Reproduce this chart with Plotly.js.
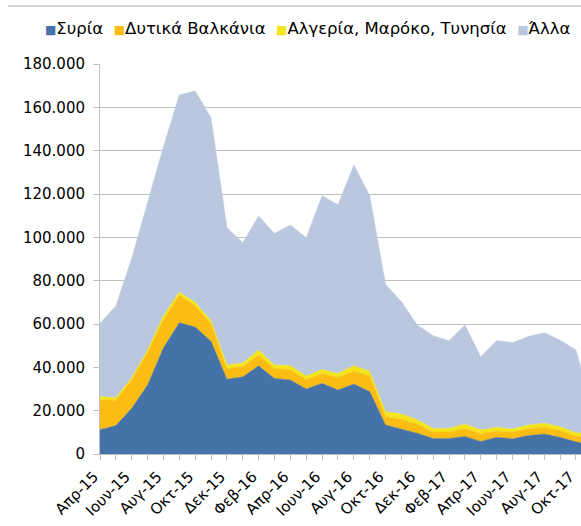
<!DOCTYPE html>
<html>
<head>
<meta charset="utf-8">
<script src="https://cdn.plot.ly/plotly-3.0.1.min.js"></script>
<style>html,body{margin:0;padding:0;background:#fff;}#chart{width:581px;height:526px;}</style>
</head>
<body>
<div id="chart"></div>
<script>
var months = ["Απρ-15","Μαϊ-15","Ιουν-15","Ιουλ-15","Αυγ-15","Σεπ-15","Οκτ-15","Νοε-15","Δεκ-15","Ιαν-16","Φεβ-16","Μαρ-16","Απρ-16","Μαϊ-16","Ιουν-16","Ιουλ-16","Αυγ-16","Σεπ-16","Οκτ-16","Νοε-16","Δεκ-16","Ιαν-17","Φεβ-17","Μαρ-17","Απρ-17","Μαϊ-17","Ιουν-17","Ιουλ-17","Αυγ-17","Σεπ-17","Οκτ-17","Νοε-17"];
var syria = [11200,13100,21100,31800,49000,60600,58600,52000,34500,35600,40700,34900,34200,30000,32600,29500,32300,28800,13400,11400,9600,7200,7200,8100,5800,7700,7000,8500,9200,7700,5600,4300];
var westBalkans = [13900,11600,13100,15200,13000,12700,9900,8000,4800,4700,5000,4400,4800,4200,4600,5800,6000,7200,3800,4600,4200,2900,2900,3700,3600,2900,3000,3200,3200,3200,2600,3000];
var maghreb = [1400,1300,1000,1000,1800,1400,1500,1500,1800,1700,2300,1800,1800,1800,1800,1800,2500,2100,2300,2500,2000,1700,1700,2000,1700,1700,1500,1700,1800,1700,1600,2100];
var others = [33800,42300,55100,68500,78000,91000,97500,93700,63400,55500,61800,60700,64900,63800,80200,77900,92600,81100,58800,51800,43700,42800,40500,45700,33800,40000,39900,40800,41800,40000,38200,13200];
var seriesNames = ["Συρία","Δυτικά Βαλκάνια","Αλγερία, Μαρόκο, Τυνησία","Άλλα"];
var seriesColors = ["#4573a7","#fbbd13","#f3e519","#bac8df"];
var yTicks = [0,20000,40000,60000,80000,100000,120000,140000,160000,180000];

var seriesData = [syria, westBalkans, maghreb, others];
var xIdx = months.map(function(_, i){ return i; });
var traces = seriesData.map(function(vals, k){
  return {
    x: xIdx, y: vals, type: 'scatter', mode: 'lines',
    stackgroup: 'one', name: seriesNames[k],
    line: {width: 0.5, color: seriesColors[k]},
    fillcolor: seriesColors[k], showlegend: false,
    hoverinfo: 'skip'
  };
});

var tickText = months.map(function(m, i){ return i % 2 === 0 ? m : ""; });
var legendText = seriesNames.map(function(n, k){
  return '<span style="color:' + seriesColors[k] + ';font-size:12px">■</span>' + n;
}).join('  ');

var layout = {
  width: 581, height: 526,
  margin: {l: 100, r: 0, t: 64, b: 72},
  paper_bgcolor: '#ffffff', plot_bgcolor: '#ffffff',
  separators: ',.',
  font: {family: 'DejaVu Sans, Verdana, sans-serif', size: 14, color: '#000'},
  showlegend: false,
  xaxis: {
    range: [0, 30.32], tickmode: 'array', tickvals: xIdx.slice(0, 31), ticktext: tickText.slice(0, 31),
    tickangle: -45, ticks: 'outside', ticklen: 5, tickcolor: '#bfbfbf',
    showgrid: false, zeroline: false, showline: true, linecolor: '#bfbfbf', linewidth: 1,
    tickfont: {size: 15}, ticklabeloverflow: 'allow', ticklabelshift: -6, ticklabelstandoff: 2,
    automargin: false
  },
  yaxis: {
    range: [0, 180000], tickmode: 'array', tickvals: yTicks, tickformat: ',d',
    ticks: 'outside', ticklen: 6, tickcolor: '#bfbfbf',
    showgrid: true, gridcolor: '#bfbfbf', gridwidth: 1,
    zeroline: false, showline: true, linecolor: '#bfbfbf', linewidth: 1,
    tickfont: {size: 15}, ticklabelstandoff: 5, layer: 'below traces', automargin: false
  },
  shapes: [{type: 'line', xref: 'paper', yref: 'paper', x0: -0.191, x1: 1.01, y0: 1.1487, y1: 1.1487,
            line: {color: '#a6a6a6', width: 1}}],
  annotations: [{
    xref: 'paper', yref: 'paper', x: 0.983, xanchor: 'right', y: 1.092, yanchor: 'middle',
    text: legendText, showarrow: false, font: {size: 16.5, color: '#000'}
  }]
};

Plotly.newPlot('chart', traces, layout, {displayModeBar: false, staticPlot: true});
</script>
</body>
</html>
